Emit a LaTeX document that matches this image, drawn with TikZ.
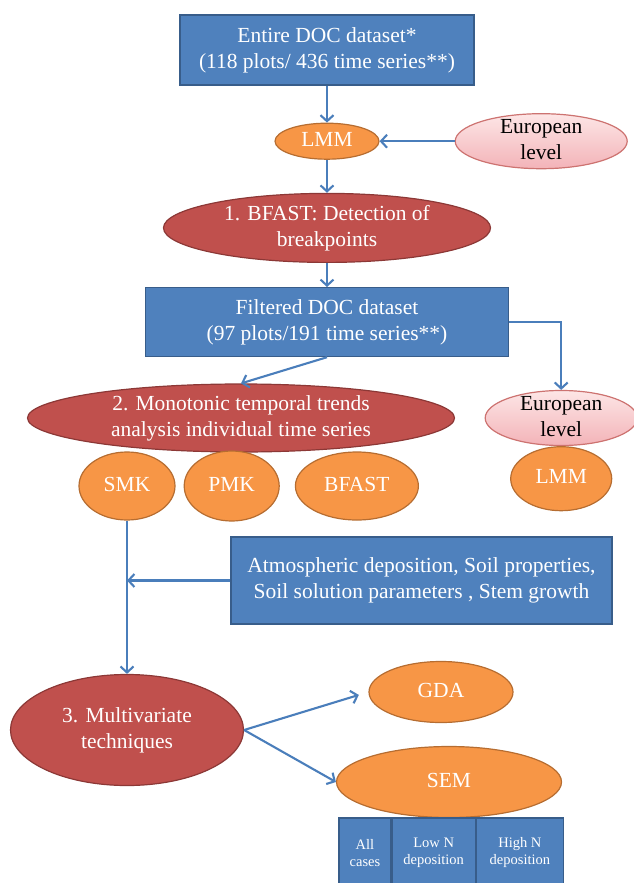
\documentclass[tikz,border=0pt]{standalone}
\usepackage{fontspec}
\setmainfont{Liberation Serif}
\usetikzlibrary{positioning,shapes.geometric,arrows.meta}

\definecolor{boxfill}{HTML}{4F81BD}
\definecolor{boxline}{HTML}{385D8A}
\definecolor{ovfill}{HTML}{F79646}
\definecolor{ovline}{HTML}{B66D31}
\definecolor{redfill}{HTML}{C0504D}
\definecolor{redline}{HTML}{8C3836}
\definecolor{pinktop}{HTML}{FDE6E6}
\definecolor{pinkbot}{HTML}{F3B3B8}
\definecolor{linkblue}{HTML}{4A7EBB}

\newcommand\inoval[1]{\makebox[0pt]{\raisebox{\dimexpr(\depth-\height)/2\relax}[0pt][0pt]{\begin{tabular}{@{}c@{}}#1\end{tabular}}}}

\tikzset{
  box/.style={rectangle, fill=boxfill, draw=boxline, line width=1.2pt, inner sep=0pt,
    text=white, align=center, font=\fontsize{21.5}{26}\selectfont},
  oval/.style={ellipse, fill=ovfill, draw=ovline, line width=1.2pt, inner sep=0pt,
    text=white, font=\fontsize{21.5}{26}\selectfont},
  redoval/.style={oval, fill=redfill, draw=redline},
  euoval/.style={oval, top color=pinktop, bottom color=pinkbot, draw=redfill!80,
    text=black, minimum width=#1, minimum height=55pt},
  cell/.style={box, minimum height=70pt, font=\fontsize{14.5}{17}\selectfont},
  link/.style={draw=linkblue, line width=2.1pt, -{Straight Barb[length=6pt,width=13pt]}}
}

\begin{document}
\begin{tikzpicture}[x=1pt,y=1pt]
      \useasboundingbox (0,0) rectangle (634,-883);

      \node[box, minimum width=294pt, minimum height=70pt] (entire) at (327,-50)
        {Entire DOC dataset*\\(118 plots/ 436 time series**)};
      \node[oval, minimum width=104pt, minimum height=36pt, below=37pt of entire] (lmm1) {\inoval{LMM}};
      \node[euoval=172pt, right=75pt of lmm1] (eu1) {\inoval{European\\level}};
      \node[redoval, minimum width=327pt, minimum height=69pt, below=33pt of lmm1] (bfast1)
        {\inoval{1. BFAST: Detection of\\breakpoints}};
      \node[box, minimum width=363pt, minimum height=69pt, below=24pt of bfast1] (filtered)
        {Filtered DOC dataset\\(97 plots/191 time series**)};

      \node[redoval, minimum width=427pt, minimum height=68pt] (trends) at (241,-418)
        {\inoval{2. Monotonic temporal trends\\analysis individual time series}};
      \node[euoval=152pt, right=29.5pt of trends] (eu2) {\inoval{European\\level}};
      \node[oval, minimum width=101pt, minimum height=64pt, below=0pt of eu2] (lmm2) {\inoval{LMM}};

      \node[oval, minimum width=96pt, minimum height=68pt] (smk) at (127,-486) {\inoval{SMK}};
      \node[oval, minimum width=95pt, minimum height=70pt, right=8pt of smk] (pmk) {\inoval{PMK}};
      \node[oval, minimum width=123pt, minimum height=68pt, right=15pt of pmk] (bfast2) {\inoval{BFAST}};

      \node[box, minimum width=381pt, minimum height=87pt] (drivers) at (421.5,-580.5)
        {Atmospheric deposition, Soil properties,\\Soil solution parameters , Stem growth};

      \node[redoval, minimum width=233pt, minimum height=111pt] (multi) at (127,-730)
        {\inoval{3. Multivariate\\techniques}};
      \node[oval, minimum width=144pt, minimum height=61pt] (gda) at (441,-692) {\inoval{GDA}};
      \node[oval, minimum width=225pt, minimum height=71pt] (sem) at (449,-782) {\inoval{SEM}};

      \node[cell, minimum width=52pt] (allc) at (365,-853) {All\\cases};
      \node[cell, minimum width=83pt, right=0pt of allc] (lown) {Low N\\deposition};
      \node[cell, minimum width=87pt, right=0pt of lown] (highn) {High N\\deposition};

      \draw[link] (entire) -- (lmm1);
      \draw[link] (eu1) -- (lmm1);
      \draw[link] (lmm1) -- (bfast1);
      \draw[link] (bfast1) -- (filtered);
      \draw[link] (filtered.south) -- (trends.north);
      \draw[link] (filtered.east) -| (eu2.north);
      \draw[link] (smk.south) -- (multi.north);
      \draw[link] (drivers.west) -- (drivers.west -| smk.south);
      \draw[link, shorten >=10pt] (multi.east) -- (gda.west);
      \draw[link] (multi.east) -- (sem.west);
    \end{tikzpicture}
\end{document}
